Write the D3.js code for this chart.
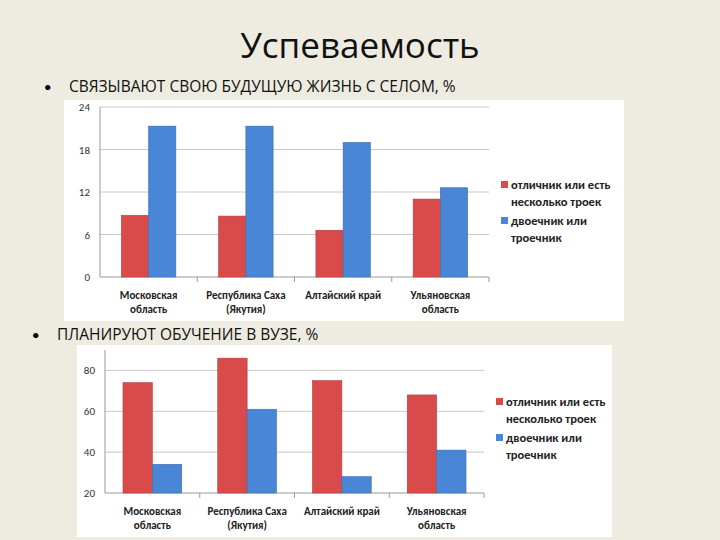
<!DOCTYPE html>
<html><head><meta charset="utf-8">
<script src="https://cdn.jsdelivr.net/npm/d3@7"></script>
<style>
body{margin:0;background:#eeece1;font-family:Calibri,"Liberation Sans","Open Sans",sans-serif;}
</style></head>
<body>
<svg id="c" width="720" height="540"></svg>
<script>
// Data
const regions = [["Московская", "область"], ["Республика Саха", "(Якутия)"], ["Алтайский край", ""], ["Ульяновская", "область"]];
const seriesNames = [["отличник или есть", "несколько троек"], ["двоечник или", "троечник"]];
const seriesColors = ["#d94a4a", "#4a86d6"];
const villageGood = [8.7, 8.6, 6.6, 11.0];
const villageWeak = [21.3, 21.3, 19.0, 12.6];
const villageTicks = [0, 6, 12, 18, 24];
const uniGood = [74, 86, 75, 68];
const uniWeak = [34, 61, 28, 41];
const uniTicks = [20, 40, 60, 80];

const svg = d3.select("#c");
svg.append("text").attr("x", 360).attr("y", 58).attr("text-anchor", "middle")
    .attr("font-family", "Open Sans").attr("font-size", 35).attr("fill", "#111").text("Успеваемость");

function bullet(x, y, text) {
    svg.append("text").attr("x", x).attr("y", y).attr("font-size", 15).text("•");
    svg.append("text").attr("x", x + 25).attr("y", y).attr("font-family", "Open Sans")
        .attr("font-size", 15.5).attr("fill", "#111").text(text);
}
bullet(44, 92, "СВЯЗЫВАЮТ СВОЮ БУДУЩУЮ ЖИЗНЬ С СЕЛОМ, %");
bullet(32, 340, "ПЛАНИРУЮТ ОБУЧЕНИЕ В ВУЗЕ, %");

function drawChart(box, plot, domain, ticks, good, weak) {
    svg.append("rect").attr("x", box.x).attr("y", box.y).attr("width", box.w).attr("height", box.h).attr("fill", "#fff");
    const g = svg.append("g");
    const y = d3.scaleLinear().domain(domain).range([plot.bottom, plot.top]);
    const x0 = d3.scaleBand().domain(d3.range(regions.length)).range([plot.left, plot.right])
        .paddingInner(plot.pad).paddingOuter(plot.pad / 2);
    const x1 = d3.scaleBand().domain([0, 1]).range([0, x0.bandwidth()]);

    ticks.forEach(t => {
        g.append("line").attr("x1", plot.left).attr("x2", plot.right).attr("y1", y(t)).attr("y2", y(t))
            .attr("stroke", t === domain[0] ? "#999" : "#c8c8c8");
        g.append("text").attr("x", plot.left - 10).attr("y", y(t) + 4).attr("text-anchor", "end")
            .attr("font-size", 11).attr("fill", "#333").text(t);
    });
    g.append("line").attr("x1", plot.left).attr("x2", plot.left).attr("y1", plot.top).attr("y2", plot.bottom).attr("stroke", "#999");
    x0.domain().forEach(i => {
        const xs = plot.left + (plot.right - plot.left) / regions.length * (i + 1);
        g.append("line").attr("x1", xs).attr("x2", xs).attr("y1", plot.bottom).attr("y2", plot.bottom + 5).attr("stroke", "#999");
    });

    [good, weak].forEach((vals, s) => {
        g.selectAll(null).data(vals).enter().append("rect")
            .attr("x", (d, i) => x0(i) + x1(s))
            .attr("y", d => y(d))
            .attr("width", x1.bandwidth())
            .attr("height", d => y(domain[0]) - y(d))
            .attr("fill", seriesColors[s])
            .attr("stroke", d3.color(seriesColors[s]).darker(0.6)).attr("stroke-width", 0.6);
    });

    regions.forEach((r, i) => {
        const cx = x0(i) + x0.bandwidth() / 2;
        r.forEach((line, k) => {
            g.append("text").attr("x", cx).attr("y", plot.bottom + 22 + k * 14).attr("text-anchor", "middle")
                .attr("font-size", 11).attr("font-weight", "bold").attr("fill", "#222").text(line);
        });
    });

    seriesNames.forEach((name, s) => {
        const ly = plot.legendY + s * 36;
        g.append("rect").attr("x", plot.right + 12).attr("y", ly - 8).attr("width", 7).attr("height", 7).attr("fill", seriesColors[s]);
        name.forEach((line, k) => {
            g.append("text").attr("x", plot.right + 22).attr("y", ly + k * 17).attr("font-size", 12.5)
                .attr("font-weight", "bold").attr("fill", "#222").text(line);
        });
    });
}

drawChart({x: 64, y: 100, w: 560, h: 221}, {left: 100, right: 489, top: 107, bottom: 277, legendY: 189, pad: 0.44},
    [0, 24], villageTicks, villageGood, villageWeak);
drawChart({x: 77, y: 345, w: 535, h: 192}, {left: 105, right: 484, top: 350, bottom: 493, legendY: 406, pad: 0.38},
    [20, 90], uniTicks, uniGood, uniWeak);
</script>
</body></html>
